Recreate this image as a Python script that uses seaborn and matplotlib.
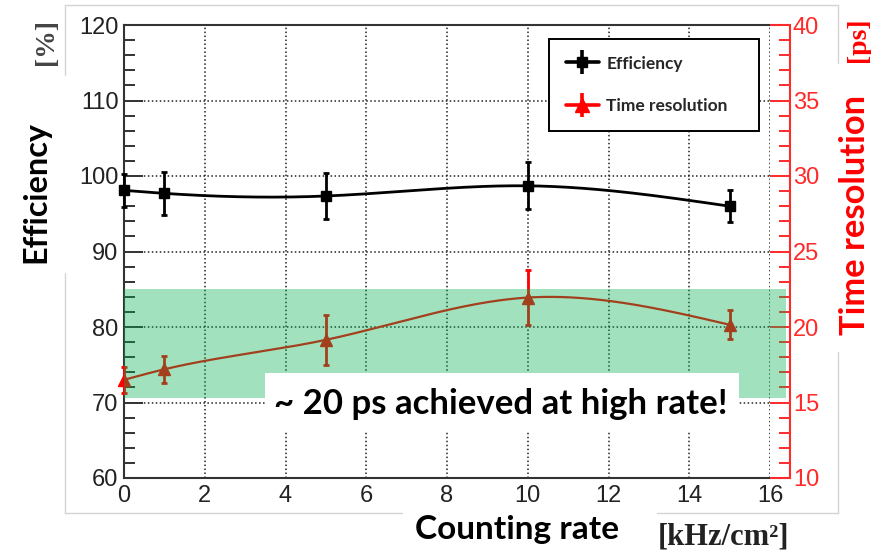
import numpy as np
import pandas as pd
import matplotlib
matplotlib.use("Agg")
import matplotlib.pyplot as plt
import seaborn as sns
from matplotlib.patches import Rectangle
from matplotlib.lines import Line2D
from matplotlib.legend_handler import HandlerTuple

# Measured points
rate = [0, 1, 5, 10, 15]
efficiency = [98.1, 97.7, 97.35, 98.7, 96.0]
efficiency_err = [2.2, 2.85, 3.05, 3.1, 2.1]
time_res = [16.5, 17.2, 19.15, 21.95, 20.15]
time_res_err = [0.85, 0.9, 1.65, 1.85, 0.95]

x_ticks = [0, 2, 4, 6, 8, 10, 12, 14, 16]
eff_ticks = [60, 70, 80, 90, 100, 110, 120]
tres_ticks = [10, 15, 20, 25, 30, 35, 40]

W, H = 871, 552


def natural_spline(x, y, xs):
    """Smooth interpolating curve through the points (natural cubic spline)."""
    x = np.asarray(x, float)
    y = np.asarray(y, float)
    n = len(x)
    h = np.diff(x)
    A = np.zeros((n, n))
    rhs = np.zeros(n)
    A[0, 0] = A[-1, -1] = 1.0
    for i in range(1, n - 1):
        A[i, i - 1] = h[i - 1]
        A[i, i] = 2 * (h[i - 1] + h[i])
        A[i, i + 1] = h[i]
        rhs[i] = 6 * ((y[i + 1] - y[i]) / h[i] - (y[i] - y[i - 1]) / h[i - 1])
    M = np.linalg.solve(A, rhs)
    idx = np.clip(np.searchsorted(x, xs) - 1, 0, n - 2)
    x0, x1 = x[idx], x[idx + 1]
    hh = x1 - x0
    return (M[idx] * (x1 - xs) ** 3 / (6 * hh) + M[idx + 1] * (xs - x0) ** 3 / (6 * hh)
            + (y[idx] / hh - M[idx] * hh / 6) * (x1 - xs)
            + (y[idx + 1] / hh - M[idx + 1] * hh / 6) * (xs - x0))


def fx(px):
    return px / W


def fy(py):
    return 1 - py / H


sns.set_style("white")
plt.rcParams["font.family"] = ["Liberation Sans", "DejaVu Sans"]

fig = plt.figure(figsize=(W / 100, H / 100), dpi=100)
ax = fig.add_axes([fx(124), fy(478), (770 - 124) / W, (478 - 25) / H])
ax2 = ax.twinx()

RED = "#ff0000"
AXRED = "#ff2a2a"

# smooth curves
xs = np.linspace(rate[0], rate[-1], 400)
curve_eff = pd.DataFrame({"rate": xs, "value": natural_spline(rate, efficiency, xs)})
curve_tres = pd.DataFrame({"rate": xs, "value": natural_spline(rate, time_res, xs)})
sns.lineplot(data=curve_eff, x="rate", y="value", ax=ax, color="black", lw=2.0,
             legend=False, zorder=3)
sns.lineplot(data=curve_tres, x="rate", y="value", ax=ax2, color=RED, lw=1.6,
             legend=False, zorder=3)

eb1 = ax.errorbar(rate, efficiency, yerr=efficiency_err, fmt="s", color="black",
                  ms=6.5, elinewidth=2.0, capsize=2.5, capthick=2.0, zorder=4)
eb2 = ax2.errorbar(rate, time_res, yerr=time_res_err, fmt="^", color=RED,
                   ms=9, elinewidth=2.0, capsize=2.5, capthick=2.0, zorder=4)
for cont in (eb1, eb2):
    for art in cont.get_children():
        art.set_clip_on(False)

# left axis
ax.set_xlim(0, 16)
ax.set_ylim(60, 120)
ax.set_xticks(x_ticks)
ax.set_yticks(eff_ticks)
ax.set_xticks(np.arange(0, 16.01, 0.5), minor=True)
ax.set_yticks(np.arange(60, 120.01, 2), minor=True)
ax.set_xlabel("")
ax.set_ylabel("")
ax.grid(True, which="major", color="#222222", linestyle=(0, (1, 1.6)), lw=1.1)
ax.tick_params(axis="y", which="major", direction="in", length=14, width=1.4,
               color="#333333", labelsize=17, labelcolor="#222222", pad=4)
ax.tick_params(axis="y", which="minor", direction="in", length=8, width=1.4,
               color="#333333")
ax.tick_params(axis="x", which="major", direction="in", length=9, width=1.4,
               color="#333333", labelsize=17, labelcolor="#222222", pad=5)
ax.tick_params(axis="x", which="minor", direction="in", length=5, width=1.4,
               color="#333333")
ax.tick_params(right=False, top=False, which="both")
for side in ("left", "bottom", "top"):
    ax.spines[side].set_color("#333333")
    ax.spines[side].set_linewidth(1.5)
    ax.spines[side].set_visible(True)
ax.spines["right"].set_visible(False)

# right (red) axis
ax2.set_ylim(10, 40)
ax2.set_yticks(tres_ticks)
ax2.set_yticks(np.arange(10, 40.01, 1), minor=True)
ax2.set_ylabel("")
ax2.spines["right"].set_position(("outward", 14.4))
ax2.spines["right"].set_color(AXRED)
ax2.spines["right"].set_linewidth(1.5)
for side in ("left", "top", "bottom"):
    ax2.spines[side].set_visible(False)
ax2.tick_params(axis="y", which="major", direction="in", length=14.4, width=1.4,
                color=AXRED, labelsize=17, labelcolor=AXRED, pad=2)
ax2.tick_params(axis="y", which="minor", direction="in", length=8, width=1.4,
                color=AXRED)
ax2.grid(False)

# red frame connectors
for py in (25, 478):
    fig.add_artist(Line2D([fx(770), fx(790)], [fy(py), fy(py)], color=AXRED,
                          lw=1.5, solid_capstyle="butt"))

# legend entries: line + marker + vertical error bar
h_eff = (Line2D([], [], color="black", lw=2.6, marker="s", ms=7),
         Line2D([], [], color="black", ls="none", marker="|", ms=17, mew=2.6))
h_tres = (Line2D([], [], color=RED, lw=2.6, marker="^", ms=10),
          Line2D([], [], color=RED, ls="none", marker="|", ms=17, mew=2.6))
leg = ax2.legend(handles=[h_eff, h_tres], labels=["Efficiency", "Time resolution"],
                 handler_map={tuple: HandlerTuple(ndivide=1)}, loc="center",
                 bbox_to_anchor=(0.658, 0.770, 0.325, 0.195), mode="expand",
                 borderaxespad=0, frameon=True, fancybox=False, framealpha=1,
                 edgecolor="black", handlelength=1.9, handletextpad=0.45,
                 labelspacing=1.55, borderpad=0.95,
                 prop={"family": "Lato", "weight": "bold", "size": 12.5})
leg.get_frame().set_linewidth(1.4)

# translucent green band marking the ~20 ps region
fig.add_artist(Rectangle((fx(124), fy(398)), (786 - 124) / W, (398 - 289) / H,
                         facecolor=(5 / 255, 176 / 255, 81 / 255), alpha=0.37,
                         edgecolor="none", zorder=5))
fig.add_artist(Rectangle((fx(265), fy(432)), (739 - 265) / W, (432 - 373) / H,
                         facecolor="white", edgecolor="none", zorder=6))
fig.text(fx(501), fy(404), "~ 20 ps achieved at high rate!", ha="center",
         va="center", fontsize=25, family="Lato", weight="bold", color="black",
         zorder=7)

# thin frame of the plot panel
gray = "#d4d4d4"
segments = [((65, 5), (838, 5)), ((65, 5), (65, 75)), ((65, 273), (65, 513)),
            ((65, 513), (402, 513)), ((657, 513), (838, 513)),
            ((838, 5), (838, 63)), ((838, 352), (838, 513))]
for (xa, ya), (xb, yb) in segments:
    fig.add_artist(Line2D([fx(xa), fx(xb)], [fy(ya), fy(yb)], color=gray, lw=1.0,
                          zorder=0))

# axis titles
fig.text(fx(36), fy(192), "Efficiency", rotation=90, ha="center", va="center",
         fontsize=23.3, family="Lato", weight="bold", color="black")
fig.text(fx(46), fy(42), "[%]", rotation=90, ha="center", va="center",
         fontsize=20, family="Liberation Serif", weight="bold", color="#444444")
fig.text(fx(855), fy(215), "Time resolution", rotation=90, ha="center",
         va="center", fontsize=24.8, family="Lato", weight="bold", color=RED)
fig.text(fx(858), fy(40), "[ps]", rotation=90, ha="center", va="center",
         fontsize=20, family="Liberation Serif", weight="bold", color=RED)
fig.text(fx(517), fy(530), "Counting rate", ha="center", va="center",
         fontsize=24, family="Lato", weight="bold", color="black")
fig.text(fx(723), fy(537), "[kHz/cm²]", ha="center", va="center",
         fontsize=22, family="Liberation Serif", weight="bold", color="#222222")

fig.savefig("out.png", dpi=100)
